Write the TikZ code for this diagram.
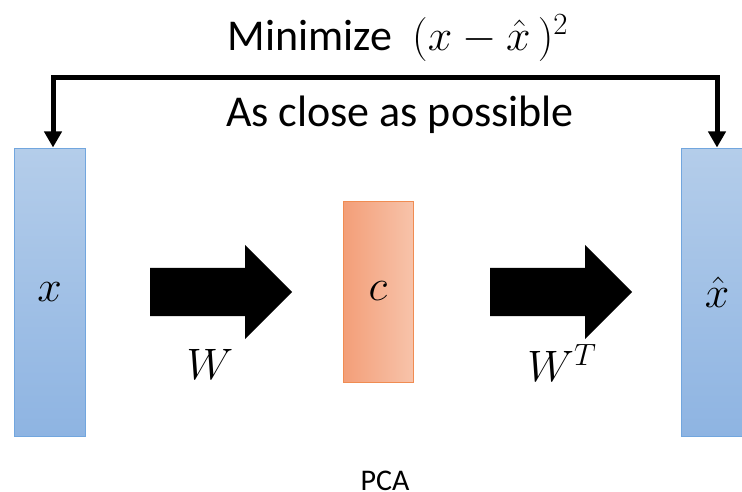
\RequirePackage{fix-cm}
\documentclass[tikz,border=0pt]{standalone}
\usepackage{fontspec}
\setmainfont{Carlito}
\usepackage{tikz}
\usetikzlibrary{arrows.meta,shapes.arrows,positioning}
\tikzset{%
        x = 1pt,
        y = -1pt,
        font = \fontsize{44}{52}\selectfont
}
\definecolor{bluetop}{HTML}{B4CDEA}
\definecolor{bluebot}{HTML}{8EB4E2}
\definecolor{blueline}{HTML}{72A6DE}
\definecolor{orangeleft}{HTML}{F39E78}
\definecolor{orangeright}{HTML}{F7C3AA}
\definecolor{orangeline}{HTML}{F08C52}
\tikzstyle{vec}=[
    draw = blueline,
    line width = 1pt,
    top color = bluetop,
    bottom color = bluebot,
    minimum width = 71pt,
    minimum height = 287pt,
    inner sep = 0pt
]
\tikzstyle{code}=[
    draw = orangeline,
    line width = 1pt,
    left color = orangeleft,
    right color = orangeright,
    minimum width = 70pt,
    minimum height = 181pt,
    inner sep = 0pt
]
\tikzstyle{map}=[
    single arrow,
    fill = black,
    anchor = tail,
    minimum width = 0pt,
    minimum height = 142pt,
    inner sep = 0pt,
    inner ysep = 24pt,
    single arrow head extend = 23pt
]
\tikzstyle{link}=[
    {Triangle[width=17pt,length=16pt]}-{Triangle[width=17pt,length=16pt]},
    line width = 5pt,
    shorten < = 1pt,
    shorten > = 1pt
]

\begin{document}
\begin{tikzpicture}
        \useasboundingbox (0,0) rectangle (742,492);
        % input, code and reconstruction
        \node[vec] (x) at (49.5,292.5) {$x$};
        \node[code] (c) at (378,291.5) {$c$};
        \node[vec] (xhat) at (717,292.5) {$\hat{x}$};
        % encoder and decoder
        \node[map] (enc) at (150,292) {};
        \node[map] (dec) at (490,292) {};
        \node (w) at (210,364) {$W$};
        \node (wt) at (562,363) {$W^T$};
        % the loss on top
        \node[inner sep=0pt] (goal) at (398,38) {Minimize\ \ $(x-\hat{x}\,)^2$};
        \node[inner sep=0pt] (close) at (400,115) {As close as possible};
        \coordinate (top) at (0,77.5);
        \draw[link] ([xshift=3.5pt]x.north) |- (top -| xhat.north)
        -- (xhat.north);
        \node[font=\fontsize{30}{34}\selectfont, anchor=base, inner sep=0pt] (name) at (385,490) {PCA};
\end{tikzpicture}
\end{document}
